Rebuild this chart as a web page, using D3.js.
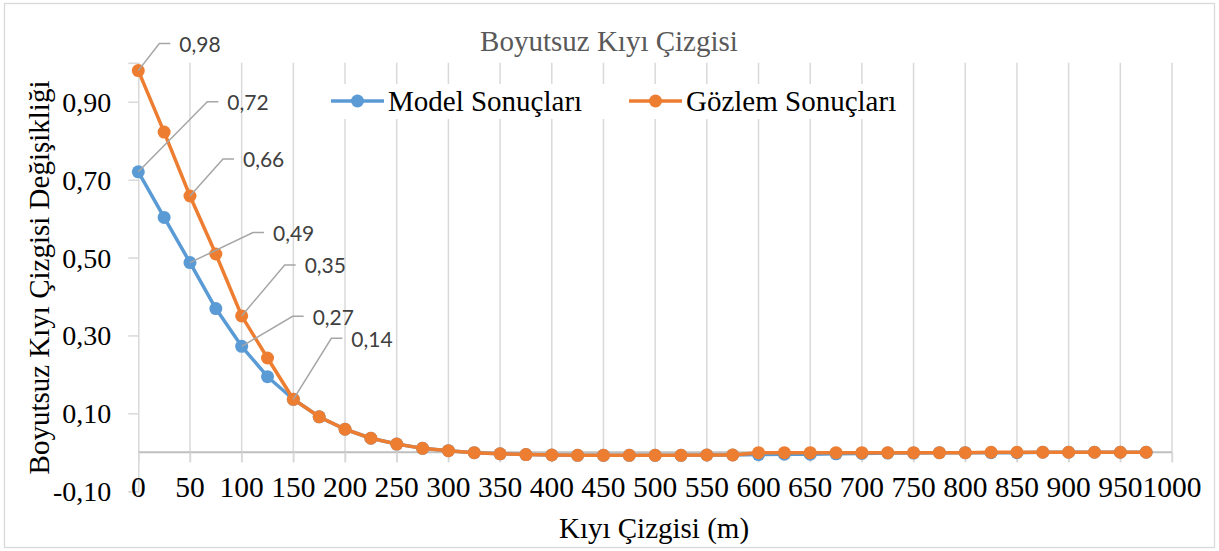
<!DOCTYPE html>
<html>
<head>
<meta charset="utf-8">
<script src="https://cdn.jsdelivr.net/npm/d3@7"></script>
<style>
  html, body { margin: 0; padding: 0; background: #fff; }
  svg { display: block; }
</style>
</head>
<body>
<svg id="chart" width="1219" height="551"></svg>
<script>
// ---------- data ----------
const distance = [0, 25, 50, 75, 100, 125, 150, 175, 200, 225, 250, 275, 300, 325, 350, 375, 400, 425, 450, 475,
                  500, 525, 550, 575, 600, 625, 650, 675, 700, 725, 750, 775, 800, 825, 850, 875, 900, 925, 950, 975];
const modelValues = [0.720, 0.603, 0.487, 0.369, 0.272, 0.194, 0.136, 0.091, 0.059, 0.036, 0.021, 0.010, 0.004, -0.001,
                     -0.004, -0.006, -0.007, -0.008, -0.008, -0.008, -0.008, -0.008, -0.007, -0.007, -0.006, -0.005,
                     -0.005, -0.004, -0.003, -0.002, -0.002, -0.001, -0.001, -0.001, -0.001, 0.000, 0.000, 0.000, 0.000, 0.000];
const observedValues = [0.980, 0.822, 0.658, 0.509, 0.350, 0.242, 0.136, 0.091, 0.059, 0.036, 0.021, 0.010, 0.004, -0.001,
                        -0.004, -0.006, -0.007, -0.008, -0.008, -0.008, -0.008, -0.008, -0.007, -0.007, -0.001, -0.001,
                        -0.001, -0.001, -0.001, -0.001, -0.001, -0.001, -0.001, 0.000, 0.000, 0.000, 0.000, 0.000, 0.000, 0.000];
const seriesNames = ["Model Sonuçları", "Gözlem Sonuçları"];
const xTickValues = [0, 50, 100, 150, 200, 250, 300, 350, 400, 450, 500, 550, 600, 650, 700, 750, 800, 850, 900, 950, 1000];
const yTickValues = [-0.1, 0.1, 0.3, 0.5, 0.7, 0.9];
const chartTitle = "Boyutsuz Kıyı Çizgisi";
const xAxisTitle = "Kıyı Çizgisi (m)";
const yAxisTitle = "Boyutsuz Kıyı Çizgisi Değişikliği";
// labelled points: series index, point index
const labelledPoints = [[1, 0], [0, 0], [1, 2], [0, 2], [1, 4], [0, 4], [1, 6]];

// ---------- layout (pixels) ----------
const leaderOffsets = [[21, -27], [69, -70], [33, -37], [63, -30], [43, -51], [51, -30], [38, -61]];
const colors = ["#5B9BD5", "#ED7D31"];

const svg = d3.select("#chart");
const x = d3.scaleLinear().domain([0, 1000]).range([138.3, 1172]);
const y = d3.scaleLinear().domain([-0.1, 1.0]).range([491.2, 62.8]);
const serif = "'Liberation Serif', 'Times New Roman', serif";

// chart border
svg.append("rect").attr("x", 4.5).attr("y", 3.5).attr("width", 1210).attr("height", 544)
  .attr("fill", "#fff").attr("stroke", "#d9d9d9").attr("stroke-width", 1.3);

// vertical gridlines (extend to tick length below zero line)
svg.append("g").selectAll("line").data(xTickValues.slice(1)).join("line")
  .attr("x1", d => x(d)).attr("x2", d => x(d))
  .attr("y1", y(1.0)).attr("y2", y(0) + 10)
  .attr("stroke", "#d9d9d9").attr("stroke-width", 1.5);

// y axis
const yAxis = d3.axisLeft(y).tickValues(yTickValues).tickSize(10).tickPadding(17)
  .tickFormat(d => d3.format(".2f")(d).replace(".", ",").replace("−", "-"));
const gy = svg.append("g").attr("transform", `translate(${x(0)},0)`).call(yAxis);
gy.select(".domain").attr("stroke", "#d9d9d9").attr("stroke-width", 1.5);
gy.selectAll(".tick line").attr("stroke", "#d9d9d9").attr("stroke-width", 1.5);
gy.selectAll(".tick text").attr("font-family", serif).attr("font-size", 28).attr("fill", "#000")
  .attr("dy", "0.34em");

// x axis line at y=0
const xAxis = d3.axisBottom(x).tickValues(xTickValues).tickSize(10).tickFormat("");
const gx = svg.append("g").attr("transform", `translate(0,${y(0)})`).call(xAxis);
gx.select(".domain").attr("stroke", "#bfbfbf").attr("stroke-width", 2).attr("d", `M${x(0)},0H${x(1000)}`);
gx.selectAll(".tick line").attr("stroke", "#d9d9d9").attr("stroke-width", 1.5);

// x tick labels (low position)
svg.append("g").selectAll("text").data(xTickValues).join("text")
  .attr("x", d => x(d)).attr("y", 497)
  .attr("text-anchor", "middle").attr("font-family", serif).attr("font-size", 29.5).attr("fill", "#000")
  .text(d => d);

// titles
svg.append("text").attr("x", 609).attr("y", 51).attr("text-anchor", "middle")
  .attr("font-family", serif).attr("font-size", 29).attr("fill", "#595959").text(chartTitle);
svg.append("text").attr("x", 654).attr("y", 538).attr("text-anchor", "middle")
  .attr("font-family", serif).attr("font-size", 29).attr("fill", "#000").text(xAxisTitle);
svg.append("text").attr("transform", "translate(48.5,277.5) rotate(-90)").attr("text-anchor", "middle")
  .attr("font-family", serif).attr("font-size", 29).attr("fill", "#000").text(yAxisTitle);

// series
const series = [modelValues, observedValues].map((vals, i) => ({
  name: seriesNames[i], color: colors[i],
  points: vals.map((v, j) => ({ x: distance[j], v }))
}));
const line = d3.line().x(d => x(d.x)).y(d => y(d.v));
series.forEach(s => {
  const g = svg.append("g");
  g.append("path").attr("d", line(s.points)).attr("fill", "none")
    .attr("stroke", s.color).attr("stroke-width", 3.5).attr("stroke-linejoin", "round");
  g.selectAll("circle").data(s.points).join("circle")
    .attr("cx", d => x(d.x)).attr("cy", d => y(d.v)).attr("r", 6.5).attr("fill", s.color);
});

// legend
const legend = svg.append("g");
legend.append("rect").attr("x", 322).attr("y", 84).attr("width", 584).attr("height", 35).attr("fill", "#fff");
const legendX = [331, 629];
series.forEach((s, i) => {
  const lx = legendX[i];
  legend.append("line").attr("x1", lx).attr("x2", lx + 53).attr("y1", 101).attr("y2", 101)
    .attr("stroke", s.color).attr("stroke-width", 3.5);
  legend.append("circle").attr("cx", lx + 26.5).attr("cy", 101).attr("r", 6.5).attr("fill", s.color);
  legend.append("text").attr("x", lx + 57).attr("y", 111)
    .attr("font-family", serif).attr("font-size", 29).attr("fill", "#000").text(s.name);
});

// data labels with leader lines
const labels = svg.append("g");
labelledPoints.forEach(([si, pi], k) => {
  const p = series[si].points[pi];
  const px = x(p.x), py = y(p.v);
  const [dx, dy] = leaderOffsets[k];
  const ex = px + dx, ey = py + dy;
  labels.append("path").attr("d", `M${px},${py}L${ex},${ey}H${ex + 11}`)
    .attr("fill", "none").attr("stroke", "#a6a6a6").attr("stroke-width", 1.5);
  labels.append("text").attr("x", ex + 20).attr("y", ey + 1).attr("dy", "0.35em")
    .attr("font-family", "Lato, 'Open Sans', sans-serif").attr("font-size", 21).attr("fill", "#404040")
    .text(d3.format(".2f")(p.v).replace(".", ","));
});
</script>
</body>
</html>
